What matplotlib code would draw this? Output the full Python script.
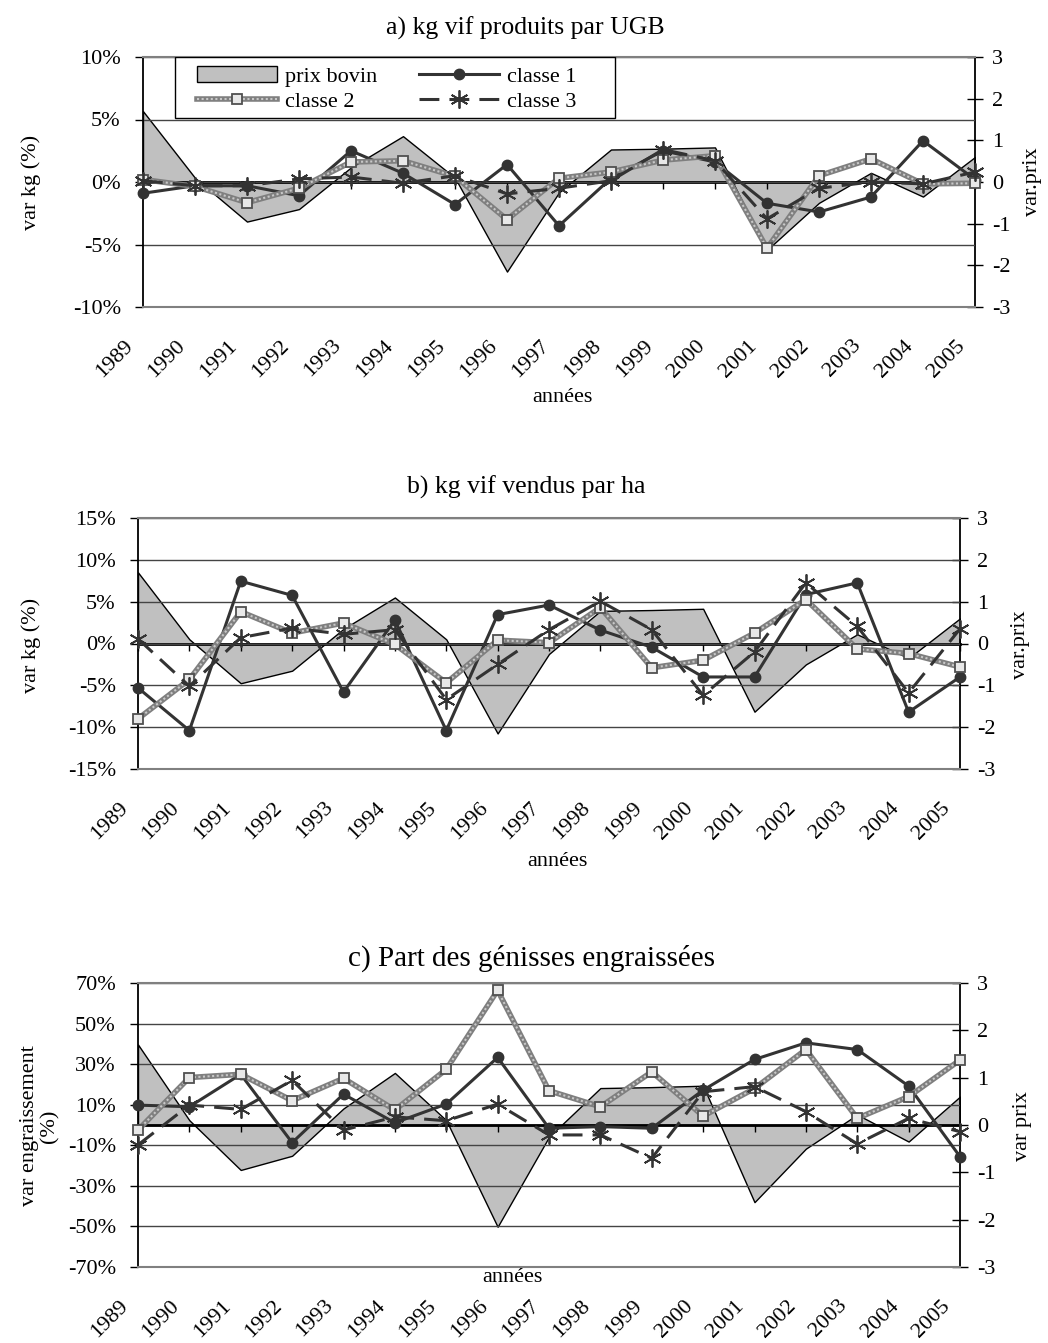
import matplotlib
matplotlib.use("Agg")
import matplotlib.pyplot as plt
from matplotlib.patches import Patch, Rectangle
from matplotlib.transforms import ScaledTranslation

plt.rcParams['font.family'] = ['Liberation Serif', 'DejaVu Serif']
plt.rcParams['axes.unicode_minus'] = False
FS = 16
FS_TITRE = 18.5

# --- données ---
annees = [str(a) for a in range(1989, 2006)]

# variation du prix bovin (axe de droite, identique pour les trois graphes)
prix_bovin = [1.7, 0.1, -0.95, -0.65, 0.35, 1.1, 0.1, -2.15, -0.25, 0.78,
              0.8, 0.83, -1.63, -0.5, 0.22, -0.35, 0.6]

# a) kg vif produits par UGB (%)
a_classe1 = [-0.9, -0.3, -0.3, -1.1, 2.5, 0.7, -1.8, 1.4, -3.5, 0.3,
             2.5, 1.6, -1.7, -2.4, -1.2, 3.3, 0.2]
a_classe2 = [0.2, -0.35, -1.65, -0.5, 1.6, 1.7, 0.45, -3.0, 0.3, 0.8,
             1.75, 2.1, -5.3, 0.5, 1.85, -0.15, -0.1]
a_classe3 = [0.1, -0.3, -0.3, 0.25, 0.4, -0.1, 0.5, -0.95, -0.5, 0.1,
             2.6, 1.7, -2.95, -0.5, 0.0, -0.15, 0.8]

# b) kg vif vendus par ha (%)
b_classe1 = [-5.3, -10.4, 7.45, 5.75, -5.8, 2.8, -10.4, 3.45, 4.6, 1.6,
             -0.45, -4.0, -4.0, 5.85, 7.25, -8.2, -4.0]
b_classe2 = [-9.0, -4.3, 3.8, 1.25, 2.45, -0.1, -4.7, 0.4, 0.1, 4.3,
             -2.9, -2.0, 1.25, 5.25, -0.65, -1.2, -2.8]
b_classe3 = [0.55, -5.1, 0.7, 1.85, 1.1, 1.65, -6.7, -2.5, 1.65, 5.05,
             1.65, -6.2, -1.0, 7.25, 2.05, -5.9, 1.75]

# c) Part des génisses engraissées (%)
c_classe1 = [9.8, 9.0, 25.0, -8.7, 15.2, 1.1, 10.3, 33.3, -1.6, -0.8,
             -1.6, 17.2, 32.3, 40.5, 37.2, 19.2, -15.6]
c_classe2 = [-2.5, 23.4, 25.0, 12.0, 23.0, 7.4, 27.4, 66.4, 16.9, 9.0,
             26.2, 4.4, 18.0, 37.2, 3.3, 14.0, 32.0]
c_classe3 = [-9.8, 9.8, 7.7, 22.0, -2.5, 4.0, 2.1, 10.3, -4.9, -4.9,
             -16.4, 16.4, 18.9, 6.6, -9.3, 3.3, -3.3]

a_ticks = [-10, -5, 0, 5, 10]
b_ticks = [-15, -10, -5, 0, 5, 10, 15]
c_ticks = [-70, -50, -30, -10, 10, 30, 50, 70]
prix_ticks = [-3, -2, -1, 0, 1, 2, 3]

W, H = 1048, 1343
fig = plt.figure(figsize=(W / 100, H / 100), dpi=100)


def box(l, r, t, b):
    return [l / W, 1 - b / H, (r - l) / W, (b - t) / H]


def panel(rect, c1, c2, c3, yticks):
    x = list(range(len(annees)))
    ax = fig.add_axes(rect)
    ax2 = ax.twinx()
    ax.set_zorder(ax2.get_zorder() + 1)
    ax.patch.set_visible(False)

    # prix bovin en aire grise sur l'axe de droite
    ax2.fill_between(x, 0, prix_bovin, facecolor='#c0c0c0',
                     edgecolor='black', lw=1.0)
    ax2.set_ylim(-3, 3)
    ax2.set_yticks(prix_ticks)
    ax2.set_yticklabels([str(t) for t in prix_ticks])
    ax2.tick_params(axis='y', direction='inout', length=12, width=1,
                    labelsize=FS, pad=6)
    for s in ['left', 'top', 'bottom']:
        ax2.spines[s].set_visible(False)
    ax2.spines['right'].set_linewidth(1.3)

    ax.set_xlim(0, len(annees) - 1)
    ax.set_ylim(yticks[0], yticks[-1])
    ax.set_yticks(yticks)
    ax.set_yticklabels([f"{t}%" for t in yticks])
    ax.yaxis.grid(True, color='#444444', lw=1)
    ax.tick_params(axis='y', direction='out', length=6, width=1,
                   labelsize=FS, pad=10)
    ax.spines['right'].set_visible(False)
    ax.spines['left'].set_linewidth(1.3)
    for s in ['top', 'bottom']:
        ax.spines[s].set_color('#808080')
        ax.spines[s].set_linewidth(1.5)

    ax.set_xticks(x)
    ax.set_xticklabels(annees, rotation=45, ha='right', va='top')
    ax.tick_params(axis='x', length=0, labelsize=FS, pad=21)
    off = ScaledTranslation(-6 / 100, 0, fig.dpi_scale_trans)
    for lab in ax.get_xticklabels():
        lab.set_transform(lab.get_transform() + off)

    # axe des catégories au niveau du zéro
    sec = ax.secondary_xaxis(0.5)
    sec.set_alignment('bottom')
    sec.set_xticks(x)
    sec.tick_params(axis='x', direction='out', length=5, width=1,
                    labelbottom=False, labeltop=False)
    sec.spines['bottom'].set_linewidth(2)

    l1, = ax.plot(x, c1, color='#333333', lw=2.2, marker='o', ms=7.5,
                  clip_on=False, zorder=3)
    l2a, = ax.plot(x, c2, color='#7f7f7f', lw=4, clip_on=False, zorder=4)
    l2b, = ax.plot(x, c2, color='#c8c8c8', lw=1.5, ls=(0, (1, 1.2)),
                   clip_on=False, zorder=4.1)
    l2c, = ax.plot(x, c2, ls='none', marker='s', ms=6.5, mfc='#e8e8e8',
                   mec='#505050', mew=1.3, clip_on=False, zorder=4.2)
    l3, = ax.plot(x, c3, color='#333333', lw=2.2, ls=(0, (6.5, 3.3)),
                  marker=(6, 2, 0), ms=13, mew=1.3, clip_on=False, zorder=5)
    return ax, ax2, (l1, (l2a, l2b, l2c), l3)


# a)
ax_a, ax_a2, h = panel(box(143, 975, 57, 307), a_classe1, a_classe2, a_classe3, a_ticks)
fig.text(525 / W, 1 - 28 / H, "a) kg vif produits par UGB", ha='center', va='center', fontsize=FS_TITRE)
fig.text(562 / W, 1 - 398 / H, "années", ha='center', va='center', fontsize=FS)
fig.text(31 / W, 1 - 182 / H, "var kg (%)", ha='center', va='center', rotation=90, fontsize=FS)
fig.text(1032 / W, 1 - 182 / H, "var.prix", ha='center', va='center', rotation=90, fontsize=FS)

# cadre de la légende
cadre = Rectangle((32 / 832, 189 / 250), 440 / 832, 61 / 250, transform=ax_a.transAxes,
                  facecolor='white', edgecolor='black', lw=1.0, zorder=9)
ax_a.add_patch(cadre)
handles = [Patch(facecolor='#c0c0c0', edgecolor='black', lw=1.0), h[1], h[0], h[2]]
labels = ["prix bovin", "classe 2", "classe 1", "classe 3"]
leg = ax_a.legend(handles, labels, ncol=2, loc='upper left',
                  bbox_to_anchor=(54 / 832, 0.962), borderaxespad=0,
                  borderpad=0, fontsize=FS, handlelength=3.6,
                  labelspacing=0.19, handletextpad=0.36, columnspacing=1.9,
                  frameon=False)
leg.set_zorder(10)

# b)
panel(box(138, 960, 518, 769), b_classe1, b_classe2, b_classe3, b_ticks)
fig.text(526 / W, 1 - 487 / H, "b) kg vif vendus par ha", ha='center', va='center', fontsize=FS_TITRE)
fig.text(557 / W, 1 - 862 / H, "années", ha='center', va='center', fontsize=FS)
fig.text(31 / W, 1 - 645 / H, "var kg (%)", ha='center', va='center', rotation=90, fontsize=FS)
fig.text(1020 / W, 1 - 645 / H, "var.prix", ha='center', va='center', rotation=90, fontsize=FS)

# c)
panel(box(138, 960, 983, 1267), c_classe1, c_classe2, c_classe3, c_ticks)
fig.text(531 / W, 1 - 958 / H, "c) Part des génisses engraissées", ha='center', va='center', fontsize=21)
fig.text(512 / W, 1 - 1278 / H, "années", ha='center', va='center', fontsize=FS)
fig.text(40 / W, 1 - 1126 / H, "var engraissement\n(%)", ha='center', va='center',
         rotation=90, fontsize=FS, linespacing=1.1)
fig.text(1023 / W, 1 - 1126 / H, "var prix", ha='center', va='center', rotation=90, fontsize=FS)

fig.savefig("out.png", dpi=100)
